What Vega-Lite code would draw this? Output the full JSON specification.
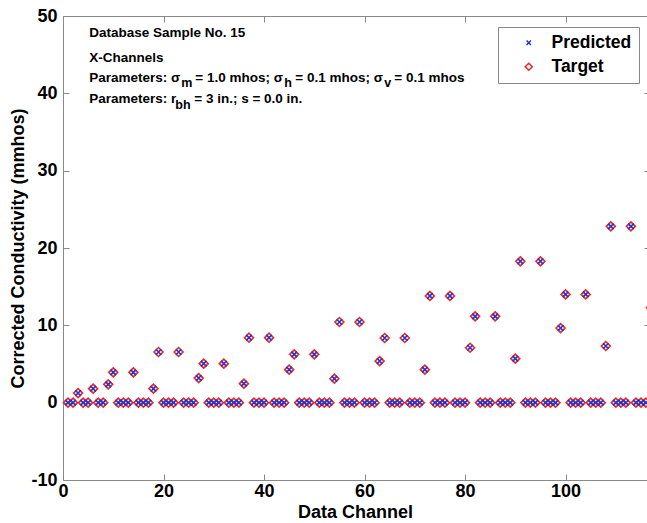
{
  "$schema": "https://vega.github.io/schema/vega-lite/v6.json",
  "width": 584,
  "height": 464,
  "autosize": {"type": "none"},
  "padding": {"left": 63, "top": 16, "right": 0, "bottom": 43},
  "background": "white",
  "config": {"view": {"stroke": null}, "font": "Liberation Sans", "axis": {"grid": false}},
  "datasets": {
    "channels": [
      {"ch": 1, "Predicted": 0, "Target": 0}, {"ch": 2, "Predicted": 0, "Target": 0}, {"ch": 3, "Predicted": 1.24, "Target": 1.24},
      {"ch": 4, "Predicted": 0, "Target": 0}, {"ch": 5, "Predicted": 0, "Target": 0}, {"ch": 6, "Predicted": 1.81, "Target": 1.81},
      {"ch": 7, "Predicted": 0, "Target": 0}, {"ch": 8, "Predicted": 0, "Target": 0}, {"ch": 9, "Predicted": 2.37, "Target": 2.37},
      {"ch": 10, "Predicted": 3.92, "Target": 3.92}, {"ch": 11, "Predicted": 0, "Target": 0}, {"ch": 12, "Predicted": 0, "Target": 0},
      {"ch": 13, "Predicted": 0, "Target": 0}, {"ch": 14, "Predicted": 3.92, "Target": 3.92}, {"ch": 15, "Predicted": 0, "Target": 0},
      {"ch": 16, "Predicted": 0, "Target": 0}, {"ch": 17, "Predicted": 0, "Target": 0}, {"ch": 18, "Predicted": 1.81, "Target": 1.81},
      {"ch": 19, "Predicted": 6.55, "Target": 6.55}, {"ch": 20, "Predicted": 0, "Target": 0}, {"ch": 21, "Predicted": 0, "Target": 0},
      {"ch": 22, "Predicted": 0, "Target": 0}, {"ch": 23, "Predicted": 6.55, "Target": 6.55}, {"ch": 24, "Predicted": 0, "Target": 0},
      {"ch": 25, "Predicted": 0, "Target": 0}, {"ch": 26, "Predicted": 0, "Target": 0}, {"ch": 27, "Predicted": 3.18, "Target": 3.18},
      {"ch": 28, "Predicted": 5.04, "Target": 5.04}, {"ch": 29, "Predicted": 0, "Target": 0}, {"ch": 30, "Predicted": 0, "Target": 0},
      {"ch": 31, "Predicted": 0, "Target": 0}, {"ch": 32, "Predicted": 5.04, "Target": 5.04}, {"ch": 33, "Predicted": 0, "Target": 0},
      {"ch": 34, "Predicted": 0, "Target": 0}, {"ch": 35, "Predicted": 0, "Target": 0}, {"ch": 36, "Predicted": 2.46, "Target": 2.46},
      {"ch": 37, "Predicted": 8.4, "Target": 8.4}, {"ch": 38, "Predicted": 0, "Target": 0}, {"ch": 39, "Predicted": 0, "Target": 0},
      {"ch": 40, "Predicted": 0, "Target": 0}, {"ch": 41, "Predicted": 8.4, "Target": 8.4}, {"ch": 42, "Predicted": 0, "Target": 0},
      {"ch": 43, "Predicted": 0, "Target": 0}, {"ch": 44, "Predicted": 0, "Target": 0}, {"ch": 45, "Predicted": 4.27, "Target": 4.27},
      {"ch": 46, "Predicted": 6.25, "Target": 6.25}, {"ch": 47, "Predicted": 0, "Target": 0}, {"ch": 48, "Predicted": 0, "Target": 0},
      {"ch": 49, "Predicted": 0, "Target": 0}, {"ch": 50, "Predicted": 6.25, "Target": 6.25}, {"ch": 51, "Predicted": 0, "Target": 0},
      {"ch": 52, "Predicted": 0, "Target": 0}, {"ch": 53, "Predicted": 0, "Target": 0}, {"ch": 54, "Predicted": 3.1, "Target": 3.1},
      {"ch": 55, "Predicted": 10.43, "Target": 10.43}, {"ch": 56, "Predicted": 0, "Target": 0}, {"ch": 57, "Predicted": 0, "Target": 0},
      {"ch": 58, "Predicted": 0, "Target": 0}, {"ch": 59, "Predicted": 10.43, "Target": 10.43}, {"ch": 60, "Predicted": 0, "Target": 0},
      {"ch": 61, "Predicted": 0, "Target": 0}, {"ch": 62, "Predicted": 0, "Target": 0}, {"ch": 63, "Predicted": 5.38, "Target": 5.38},
      {"ch": 64, "Predicted": 8.36, "Target": 8.36}, {"ch": 65, "Predicted": 0, "Target": 0}, {"ch": 66, "Predicted": 0, "Target": 0},
      {"ch": 67, "Predicted": 0, "Target": 0}, {"ch": 68, "Predicted": 8.36, "Target": 8.36}, {"ch": 69, "Predicted": 0, "Target": 0},
      {"ch": 70, "Predicted": 0, "Target": 0}, {"ch": 71, "Predicted": 0, "Target": 0}, {"ch": 72, "Predicted": 4.27, "Target": 4.27},
      {"ch": 73, "Predicted": 13.8, "Target": 13.8}, {"ch": 74, "Predicted": 0, "Target": 0}, {"ch": 75, "Predicted": 0, "Target": 0},
      {"ch": 76, "Predicted": 0, "Target": 0}, {"ch": 77, "Predicted": 13.8, "Target": 13.8}, {"ch": 78, "Predicted": 0, "Target": 0},
      {"ch": 79, "Predicted": 0, "Target": 0}, {"ch": 80, "Predicted": 0, "Target": 0}, {"ch": 81, "Predicted": 7.1, "Target": 7.1},
      {"ch": 82, "Predicted": 11.16, "Target": 11.16}, {"ch": 83, "Predicted": 0, "Target": 0}, {"ch": 84, "Predicted": 0, "Target": 0},
      {"ch": 85, "Predicted": 0, "Target": 0}, {"ch": 86, "Predicted": 11.16, "Target": 11.16}, {"ch": 87, "Predicted": 0, "Target": 0},
      {"ch": 88, "Predicted": 0, "Target": 0}, {"ch": 89, "Predicted": 0, "Target": 0}, {"ch": 90, "Predicted": 5.69, "Target": 5.69},
      {"ch": 91, "Predicted": 18.28, "Target": 18.28}, {"ch": 92, "Predicted": 0, "Target": 0}, {"ch": 93, "Predicted": 0, "Target": 0},
      {"ch": 94, "Predicted": 0, "Target": 0}, {"ch": 95, "Predicted": 18.28, "Target": 18.28}, {"ch": 96, "Predicted": 0, "Target": 0},
      {"ch": 97, "Predicted": 0, "Target": 0}, {"ch": 98, "Predicted": 0, "Target": 0}, {"ch": 99, "Predicted": 9.65, "Target": 9.65},
      {"ch": 100, "Predicted": 14.0, "Target": 14.0}, {"ch": 101, "Predicted": 0, "Target": 0}, {"ch": 102, "Predicted": 0, "Target": 0},
      {"ch": 103, "Predicted": 0, "Target": 0}, {"ch": 104, "Predicted": 14.0, "Target": 14.0}, {"ch": 105, "Predicted": 0, "Target": 0},
      {"ch": 106, "Predicted": 0, "Target": 0}, {"ch": 107, "Predicted": 0, "Target": 0}, {"ch": 108, "Predicted": 7.33, "Target": 7.33},
      {"ch": 109, "Predicted": 22.8, "Target": 22.8}, {"ch": 110, "Predicted": 0, "Target": 0}, {"ch": 111, "Predicted": 0, "Target": 0},
      {"ch": 112, "Predicted": 0, "Target": 0}, {"ch": 113, "Predicted": 22.8, "Target": 22.8}, {"ch": 114, "Predicted": 0, "Target": 0},
      {"ch": 115, "Predicted": 0, "Target": 0}, {"ch": 116, "Predicted": 0, "Target": 0}, {"ch": 117, "Predicted": 12.3, "Target": 12.3}
    ]
  },
  "resolve": {"scale": {"x": "shared", "y": "shared"}, "axis": {"x": "independent", "y": "independent"}},
  "layer": [
    {
      "data": {"name": "channels"},
      "transform": [{"fold": ["Target", "Predicted"], "as": ["series", "value"]}],
      "mark": {"type": "point", "filled": false, "strokeWidth": 1.6, "size": 80, "opacity": 1, "clip": false},
      "encoding": {
        "x": {"field": "ch", "type": "quantitative", "scale": {"domain": [0, 116.2], "nice": false, "zero": false},
          "axis": {"orient": "bottom", "values": [0, 20, 40, 60, 80, 100], "title": "Data Channel", "titleFontSize": 18, "titleFontWeight": "bold", "titleColor": "black", "titlePadding": 3,
            "labelFontSize": 18, "labelFontWeight": "bold", "labelColor": "black", "labelPadding": 8, "tickSize": -6, "tickColor": "#888888", "domainColor": "#888888", "labelFlush": false, "labelOverlap": false}},
        "y": {"field": "value", "type": "quantitative", "scale": {"domain": [-10, 50], "nice": false, "zero": false},
          "axis": {"orient": "left", "values": [-10, 0, 10, 20, 30, 40, 50], "labelExpr": "'' + datum.value", "title": "Corrected Conductivity (mmhos)", "titleFontSize": 18, "titleFontWeight": "bold", "titleColor": "black", "titlePadding": 3,
            "labelFontSize": 18, "labelFontWeight": "bold", "labelColor": "black", "labelPadding": 12, "tickSize": -6, "tickColor": "#888888", "domainColor": "#888888", "labelFlush": false, "labelOverlap": false}},
        "color": {"field": "series", "type": "nominal", "scale": {"domain": ["Predicted", "Target"], "range": ["#1f35cc", "#f02424"]},
          "legend": {"title": null, "orient": "none", "legendX": 435, "legendY": 11, "strokeColor": "#888888", "fillColor": "white", "padding": 7,
            "labelFontSize": 17.5, "labelFontWeight": "bold", "labelColor": "black", "symbolSize": 50, "symbolStrokeWidth": 1.5, "symbolOffset": 15, "labelOffset": 14, "rowPadding": 5}},
        "shape": {"field": "series", "type": "nominal", "scale": {"domain": ["Predicted", "Target"], "range": ["M-0.62,-0.62L0.62,0.62M-0.62,0.62L0.62,-0.62", "diamond"]}},
        "order": {"field": "series", "sort": "descending"}
      }
    },
    {
      "data": {"values": [{}]},
      "mark": {"type": "point", "opacity": 0},
      "encoding": {
        "x": {"datum": 0, "type": "quantitative", "scale": {"domain": [0, 116.2], "nice": false, "zero": false},
          "axis": {"orient": "top", "values": [0, 20, 40, 60, 80, 100], "labels": false, "title": null, "tickSize": -6, "tickColor": "#888888", "domainColor": "#888888"}},
        "y": {"datum": 0, "type": "quantitative", "scale": {"domain": [-10, 50], "nice": false, "zero": false},
          "axis": {"orient": "right", "values": [-10, 0, 10, 20, 30, 40, 50], "labels": false, "title": null, "domain": false, "tickSize": -3, "tickColor": "#888888"}}
      }
    },
    {"data": {"values": [{}]}, "mark": {"type": "text", "text": "Database Sample No. 15", "align": "left", "baseline": "alphabetic", "fontSize": 13.5, "fontWeight": "bold"},
      "encoding": {"x": {"datum": 5.23, "type": "quantitative", "axis": null}, "y": {"datum": 47.25, "type": "quantitative", "axis": null}}},
    {"data": {"values": [{}]}, "mark": {"type": "text", "text": "X-Channels", "align": "left", "baseline": "alphabetic", "fontSize": 13.5, "fontWeight": "bold"},
      "encoding": {"x": {"datum": 5.23, "type": "quantitative", "axis": null}, "y": {"datum": 44.1, "type": "quantitative", "axis": null}}},
    {"data": {"values": [{}]}, "mark": {"type": "text", "text": "Parameters: σ", "align": "left", "baseline": "alphabetic", "fontSize": 13.5, "fontWeight": "bold"},
      "encoding": {"x": {"datum": 5.23, "type": "quantitative", "axis": null}, "y": {"datum": 41.5, "type": "quantitative", "axis": null}}},
    {"data": {"values": [{}]}, "mark": {"type": "text", "text": "m", "align": "left", "baseline": "alphabetic", "fontSize": 12.5, "fontWeight": "bold", "dx": 92, "dy": 5.5},
      "encoding": {"x": {"datum": 5.23, "type": "quantitative", "axis": null}, "y": {"datum": 41.5, "type": "quantitative", "axis": null}}},
    {"data": {"values": [{}]}, "mark": {"type": "text", "text": "= 1.0 mhos; σ", "align": "left", "baseline": "alphabetic", "fontSize": 13.5, "fontWeight": "bold", "dx": 106},
      "encoding": {"x": {"datum": 5.23, "type": "quantitative", "axis": null}, "y": {"datum": 41.5, "type": "quantitative", "axis": null}}},
    {"data": {"values": [{}]}, "mark": {"type": "text", "text": "h", "align": "left", "baseline": "alphabetic", "fontSize": 12.5, "fontWeight": "bold", "dx": 195, "dy": 5.5},
      "encoding": {"x": {"datum": 5.23, "type": "quantitative", "axis": null}, "y": {"datum": 41.5, "type": "quantitative", "axis": null}}},
    {"data": {"values": [{}]}, "mark": {"type": "text", "text": "= 0.1 mhos; σ", "align": "left", "baseline": "alphabetic", "fontSize": 13.5, "fontWeight": "bold", "dx": 206},
      "encoding": {"x": {"datum": 5.23, "type": "quantitative", "axis": null}, "y": {"datum": 41.5, "type": "quantitative", "axis": null}}},
    {"data": {"values": [{}]}, "mark": {"type": "text", "text": "v", "align": "left", "baseline": "alphabetic", "fontSize": 12.5, "fontWeight": "bold", "dx": 295, "dy": 5.5},
      "encoding": {"x": {"datum": 5.23, "type": "quantitative", "axis": null}, "y": {"datum": 41.5, "type": "quantitative", "axis": null}}},
    {"data": {"values": [{}]}, "mark": {"type": "text", "text": "= 0.1 mhos", "align": "left", "baseline": "alphabetic", "fontSize": 13.5, "fontWeight": "bold", "dx": 305},
      "encoding": {"x": {"datum": 5.23, "type": "quantitative", "axis": null}, "y": {"datum": 41.5, "type": "quantitative", "axis": null}}},
    {"data": {"values": [{}]}, "mark": {"type": "text", "text": "Parameters: r", "align": "left", "baseline": "alphabetic", "fontSize": 13.5, "fontWeight": "bold"},
      "encoding": {"x": {"datum": 5.23, "type": "quantitative", "axis": null}, "y": {"datum": 38.75, "type": "quantitative", "axis": null}}},
    {"data": {"values": [{}]}, "mark": {"type": "text", "text": "bh", "align": "left", "baseline": "alphabetic", "fontSize": 12.5, "fontWeight": "bold", "dx": 86, "dy": 5.5},
      "encoding": {"x": {"datum": 5.23, "type": "quantitative", "axis": null}, "y": {"datum": 38.75, "type": "quantitative", "axis": null}}},
    {"data": {"values": [{}]}, "mark": {"type": "text", "text": "= 3 in.; s = 0.0 in.", "align": "left", "baseline": "alphabetic", "fontSize": 13.5, "fontWeight": "bold", "dx": 105},
      "encoding": {"x": {"datum": 5.23, "type": "quantitative", "axis": null}, "y": {"datum": 38.75, "type": "quantitative", "axis": null}}}
  ]
}
